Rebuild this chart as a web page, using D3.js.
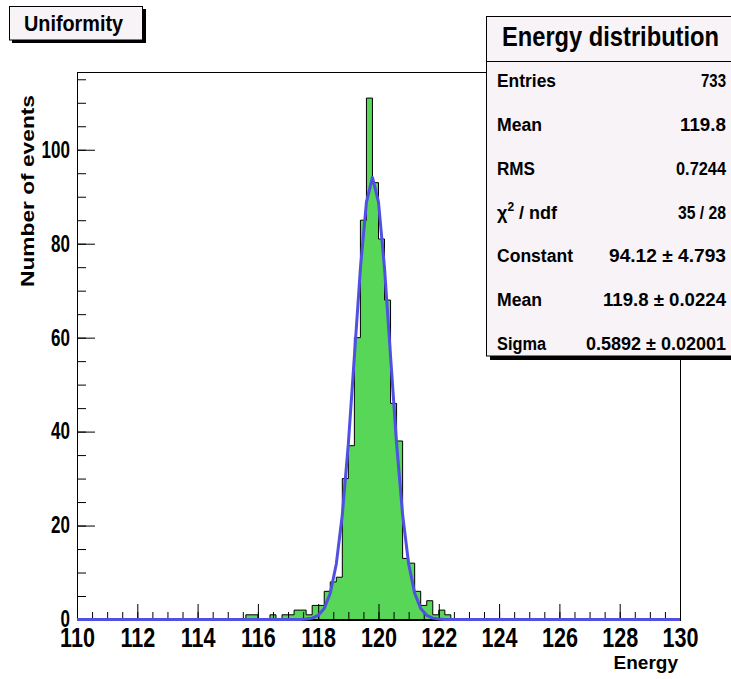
<!DOCTYPE html>
<html>
<head>
<meta charset="utf-8">
<script src="https://cdn.jsdelivr.net/npm/d3@7"></script>
<style>
body { margin: 0; background: #fff; }
text { font-family: "Liberation Sans", Arial, sans-serif; font-weight: bold; fill: #000; }
</style>
</head>
<body>
<svg id="chart" width="731" height="679"></svg>
<script>
// histogram, 100 bins of width 0.2 between 110 and 130 (only non-empty bins listed)
var binLow = [115.6, 115.8, 116.4, 116.8, 117.0, 117.2, 117.4, 117.6, 117.8, 118.0,
    118.2, 118.4, 118.6, 118.8, 119.0, 119.2, 119.4, 119.6, 119.8, 120.0,
    120.2, 120.4, 120.6, 120.8, 121.0, 121.2, 121.4, 121.6, 121.8, 122.0, 122.2]
var binCount = [1, 1, 1, 1, 1, 2, 2, 1, 3, 3,
    6, 8, 9, 30, 37, 60, 85, 111, 93, 81,
    68, 46, 38, 13, 12, 6, 3, 4, 1, 2, 1]

// gaussian fit parameters (from the stats box)
var fitConstant = 94.12
var fitMean = 119.8
var fitSigma = 0.5892

var xTicks = [110, 112, 114, 116, 118, 120, 122, 124, 126, 128, 130]
var yTicks = [0, 20, 40, 60, 80, 100]

var statLabels = ['Entries', 'Mean', 'RMS', 'chi2', 'Constant', 'Mean', 'Sigma']
var statValues = ['733', '119.8', '0.7244', '35 / 28', '94.12 \u00b1 4.793', '119.8 \u00b1 0.0224', '0.5892 \u00b1 0.02001']

var svg = d3.select('#chart')
var fLeft = 77, fRight = 680, fTop = 72, fBottom = 620
var nbins = 100, xmin = 110, xmax = 130, bw = 0.2

var x = d3.scaleLinear().domain([xmin, xmax]).range([fLeft, fRight])
var y = d3.scaleLinear().domain([0, d3.max(binCount) * 1.05]).range([fBottom - 0.5, fTop])

// squeeze bold Liberation Sans to look like the condensed ROOT font
function condense(sel, k) {
    sel.each(function() {
        var w = this.getComputedTextLength()
        d3.select(this).attr('textLength', w * k).attr('lengthAdjust', 'spacingAndGlyphs')
    })
}

// full bin array
var counts = d3.range(nbins).map(function() { return 0 })
binLow.forEach(function(lo, i) {
    counts[Math.round((lo - xmin) / bw)] = binCount[i]
})

// frame
svg.append('rect')
    .attr('x', fLeft + 0.5).attr('y', fTop + 0.5)
    .attr('width', fRight - fLeft).attr('height', fBottom - fTop)
    .attr('fill', '#fff').attr('stroke', '#000').attr('stroke-width', 1)

// histogram
var hpath = d3.path()
hpath.moveTo(x(xmin), y(0))
counts.forEach(function(c, i) {
    hpath.lineTo(x(xmin + i * bw), y(c))
    hpath.lineTo(x(xmin + (i + 1) * bw), y(c))
})
hpath.lineTo(x(xmax), y(0))
hpath.closePath()
svg.append('path')
    .attr('d', hpath.toString())
    .attr('fill', '#57d657')
    .attr('stroke', '#000')
    .attr('stroke-width', 1)

// axes
var xMinor = d3.range(xmin, xmax + 0.001, 0.5)
svg.append('g')
    .attr('transform', 'translate(0,' + fBottom + ')')
    .call(d3.axisBottom(x).tickValues(xMinor).tickSize(-8).tickFormat(''))
    .call(function(g) { g.select('.domain').remove() })
var xAxis = svg.append('g')
    .attr('transform', 'translate(0,' + fBottom + ')')
    .call(d3.axisBottom(x).tickValues(xTicks).tickSize(-16).tickSizeOuter(0).tickPadding(8).tickFormat(d3.format('d')))
xAxis.attr('font-family', null).attr('font-size', null)
xAxis.selectAll('text').style('font-size', '27px')
condense(xAxis.selectAll('text'), 0.8)

var yMinor = d3.range(0, 116, 5)
svg.append('g')
    .attr('transform', 'translate(' + fLeft + ',0)')
    .call(d3.axisLeft(y).tickValues(yMinor).tickSize(-9).tickFormat(''))
    .call(function(g) { g.select('.domain').remove() })
var yAxis = svg.append('g')
    .attr('transform', 'translate(' + fLeft + ',0)')
    .call(d3.axisLeft(y).tickValues(yTicks).tickSize(-18).tickSizeOuter(0).tickPadding(7).tickFormat(d3.format('d')))
yAxis.attr('font-family', null).attr('font-size', null)
yAxis.selectAll('text').style('font-size', '23px')
condense(yAxis.selectAll('text'), 0.74)

svg.selectAll('.tick line').attr('stroke', '#000')

// fit curve
svg.append('clipPath').attr('id', 'frameclip')
    .append('rect').attr('x', fLeft).attr('y', fTop).attr('width', fRight - fLeft).attr('height', fBottom - fTop + 2)
var fitPts = d3.range(0, nbins + 1).map(function(i) {
    var v = xmin + i * bw
    return [v, fitConstant * Math.exp(-0.5 * Math.pow((v - fitMean) / fitSigma, 2))]
})
svg.append('path')
    .datum(fitPts)
    .attr('clip-path', 'url(#frameclip)')
    .attr('d', d3.line().x(function(d) { return x(d[0]) }).y(function(d) { return y(d[1]) }))
    .attr('fill', 'none')
    .attr('stroke', '#5050e2')
    .attr('stroke-width', 3)
    .attr('stroke-linejoin', 'round')

// axis titles
svg.append('text')
    .attr('x', 678).attr('y', 669)
    .attr('text-anchor', 'end')
    .style('font-size', '19px')
    .text('Energy')
svg.append('text')
    .attr('transform', 'translate(34,191) rotate(-90)')
    .attr('text-anchor', 'middle')
    .style('font-size', '19px')
    .attr('textLength', 192).attr('lengthAdjust', 'spacingAndGlyphs')
    .text('Number of events')

// title box
var boxFill = '#f7f3f7'
svg.append('rect').attr('x', 12).attr('y', 40).attr('width', 134).attr('height', 3).attr('fill', '#000')
svg.append('rect').attr('x', 143).attr('y', 9).attr('width', 3).attr('height', 34).attr('fill', '#000')
svg.append('rect')
    .attr('x', 9.5).attr('y', 6.5).attr('width', 133).attr('height', 33.5)
    .attr('fill', boxFill).attr('stroke', '#000')
svg.append('text')
    .attr('x', 24).attr('y', 31)
    .style('font-size', '22px')
    .attr('textLength', 99).attr('lengthAdjust', 'spacingAndGlyphs')
    .text('Uniformity')

// stats box
var sx = 486.5, sy = 16.5
svg.append('rect').attr('x', 490).attr('y', 356).attr('width', 241).attr('height', 4).attr('fill', '#000')
svg.append('rect')
    .attr('x', sx).attr('y', sy).attr('width', 260).attr('height', 339.5)
    .attr('fill', boxFill).attr('stroke', '#000')
svg.append('line')
    .attr('x1', sx).attr('x2', 731).attr('y1', 61.5).attr('y2', 61.5)
    .attr('stroke', '#000')
svg.append('text')
    .attr('x', 502).attr('y', 46)
    .style('font-size', '28px')
    .attr('textLength', 217).attr('lengthAdjust', 'spacingAndGlyphs')
    .text('Energy distribution')

var labelW = [59, 45, 38, 63, 76, 45, 49]
var valueW = [25, 46, 50, 48, 117, 123, 140]
var rowY = d3.scaleLinear().domain([0, statLabels.length - 1]).range([87, 350])

statLabels.forEach(function(lab, i) {
    var t = svg.append('text')
        .attr('x', 497).attr('y', rowY(i))
        .style('font-size', '18px')
    if (lab == 'chi2') {
        t.append('tspan').text('\u03c7')
        t.append('tspan').attr('dy', -8).style('font-size', '12px').text('2')
        t.append('tspan').attr('dy', 8).text(' / ndf')
    } else {
        t.attr('textLength', labelW[i]).attr('lengthAdjust', 'spacingAndGlyphs').text(lab)
    }
    svg.append('text')
        .attr('x', 726).attr('y', rowY(i))
        .attr('text-anchor', 'end')
        .style('font-size', '18px')
        .attr('textLength', valueW[i]).attr('lengthAdjust', 'spacingAndGlyphs')
        .text(statValues[i])
})
</script>
</body>
</html>
